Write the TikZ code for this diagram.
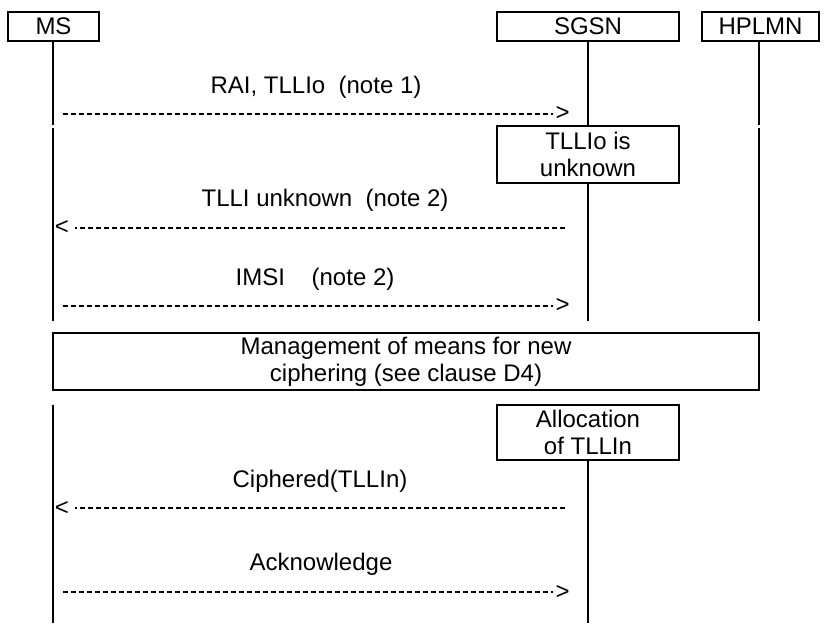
\documentclass[tikz,border=0pt]{standalone}
\usepackage{fontspec}
\setmainfont{Liberation Sans}
\begin{document}
\begin{tikzpicture}[x=1pt,y=-1pt,
  box/.style={draw, line width=1.1pt, inner sep=0pt, align=center,
    font=\fontsize{24}{27}\selectfont},
  lbl/.style={font=\fontsize{24}{27}\selectfont, inner sep=0pt},
  life/.style={line width=1.1pt},
  msg/.style={line width=2.2pt, dash pattern=on 5pt off 3pt}]
\useasboundingbox (0,0) rectangle (826,623);

% header boxes
\node[box, minimum width=91pt, minimum height=29pt] (ms) at (53.5,26.5) {MS};
\node[box, minimum width=182pt, minimum height=29pt] (sgsn) at (588,26.5) {SGSN};
\node[box, minimum width=117pt, minimum height=29pt] (hplmn) at (760.5,26.5) {HPLMN};

% process boxes
\node[box, minimum width=182pt, minimum height=57pt] (tllio) at (588,154.5) {TLLIo is\\unknown};
\node[box, minimum width=706pt, minimum height=57pt] (mgmt) at (406,361.5) {Management of means for new\\ciphering (see clause D4)};
\node[box, minimum width=182pt, minimum height=55pt] (alloc) at (588,432.5) {Allocation\\of TLLIn};

% lifeline coordinates
\coordinate (msA) at (53,124.5);
\coordinate (msB) at (53,127.5);
\coordinate (msC) at (53,321);
\coordinate (msD) at (53,405);
\coordinate (msE) at (53,623);
\coordinate (sgC) at (588,321);
\coordinate (sgE) at (588,623);
\coordinate (hpA) at (759,124.5);
\coordinate (hpB) at (759,127.5);
\coordinate (hpC) at (759,321);

% lifelines
\draw[life] (ms.south -| msA) -- (msA);
\draw[life] (msB) -- (msC);
\draw[life] (msD) -- (msE);
\draw[life] (sgsn.south) -- (tllio.north);
\draw[life] (tllio.south) -- (sgC);
\draw[life] (alloc.south) -- (sgE);
\draw[life] (hplmn.south -| hpA) -- (hpA);
\draw[life] (hpB) -- (hpC);

% message 1
\node[lbl] (t1) at (316,87) {RAI, TLLIo\ \ (note 1)};
\coordinate (m1s) at (63,114);
\coordinate (m1e) at (553,114);
\draw[msg] (m1s) -- (m1e);
\node[lbl] (h1) at (562.5,114) {>};

% message 2
\node[lbl] (t2) at (325,200) {TLLI unknown\ \ (note 2)};
\node[lbl] (h2) at (62,228) {<};
\coordinate (m2s) at (565,228);
\coordinate (m2e) at (75,228);
\draw[msg] (m2s) -- (m2e);

% message 3
\node[lbl] (t3) at (315,279) {IMSI\ \ \ \ (note 2)};
\coordinate (m3s) at (63,306);
\coordinate (m3e) at (553,306);
\draw[msg] (m3s) -- (m3e);
\node[lbl] (h3) at (562.5,306) {>};

% message 4
\node[lbl] (t4) at (320,481) {Ciphered(TLLIn)};
\node[lbl] (h4) at (62,508) {<};
\coordinate (m4s) at (565,508);
\coordinate (m4e) at (75,508);
\draw[msg] (m4s) -- (m4e);

% message 5
\node[lbl] (t5) at (321,564) {Acknowledge};
\coordinate (m5s) at (63,592);
\coordinate (m5e) at (553,592);
\draw[msg] (m5s) -- (m5e);
\node[lbl] (h5) at (562.5,592) {>};
\end{tikzpicture}
\end{document}
